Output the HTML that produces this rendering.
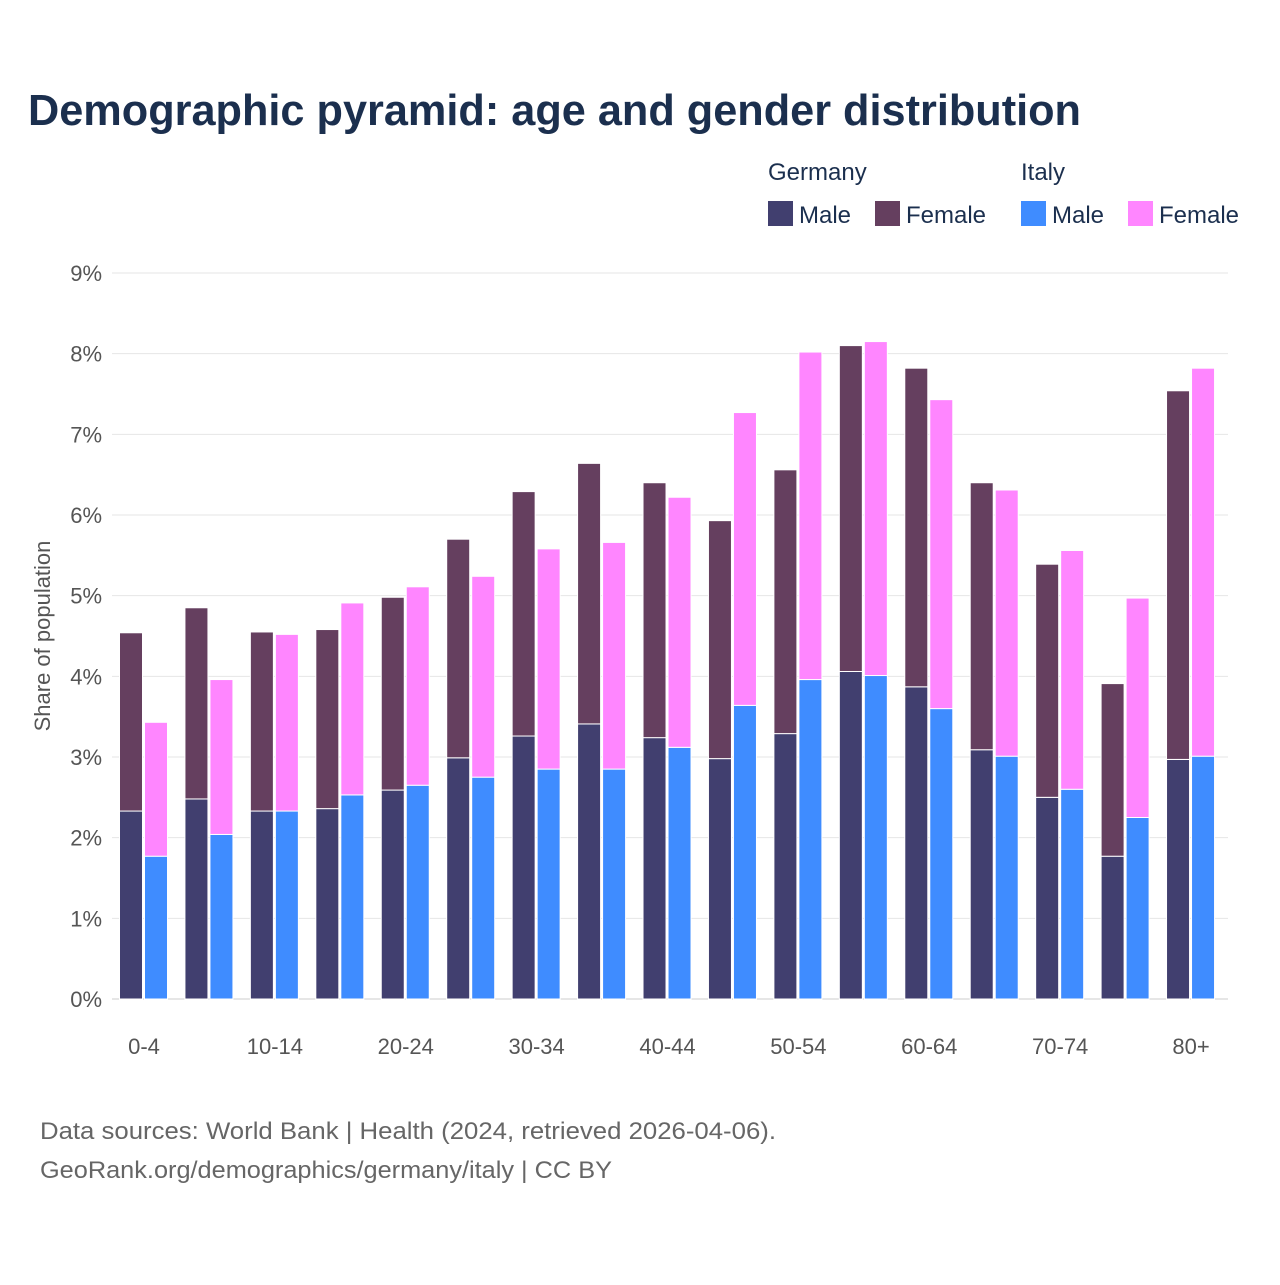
<!DOCTYPE html>
<html><head><meta charset="utf-8"><style>
body{margin:0;background:#fff;font-family:"Liberation Sans",sans-serif;}
svg text{font-family:"Liberation Sans",sans-serif;}
</style></head><body>
<svg id="chart" width="1280" height="1280" xmlns="http://www.w3.org/2000/svg">
<rect width="1280" height="1280" fill="#fff"/>
<text x="28" y="125" font-size="44" font-weight="bold" fill="#1b2f4e" textLength="1053" lengthAdjust="spacingAndGlyphs">Demographic pyramid: age and gender distribution</text>
<g font-size="24" fill="#1b2f4e">
<text x="768" y="180">Germany</text>
<text x="1021" y="180">Italy</text>
<g><rect x="768" y="201" width="25" height="25" fill="#413f6f"/><text x="799" y="223">Male</text></g>
<g><rect x="875" y="201" width="25" height="25" fill="#653f5f"/><text x="906" y="223">Female</text></g>
<g><rect x="1021" y="201" width="25" height="25" fill="#3f8cff"/><text x="1052" y="223">Male</text></g>
<g><rect x="1128" y="201" width="25" height="25" fill="#ff86ff"/><text x="1159" y="223">Female</text></g>
</g>
<g id="grid"></g><g id="bars"></g><g id="axes"></g>
<text transform="translate(50,636) rotate(-90)" text-anchor="middle" font-size="22" fill="#555">Share of population</text>
<text x="40" y="1139" font-size="24" fill="#666" textLength="736" lengthAdjust="spacingAndGlyphs">Data sources: World Bank | Health (2024, retrieved 2026-04-06).</text>
<text x="40" y="1178" font-size="24" fill="#666" textLength="572" lengthAdjust="spacingAndGlyphs">GeoRank.org/demographics/germany/italy | CC BY</text>
</svg>
<script>
const categories=["0-4","5-9","10-14","15-19","20-24","25-29","30-34","35-39","40-44","45-49","50-54","55-59","60-64","65-69","70-74","75-79","80+"];
const germanyMale=[2.33,2.48,2.33,2.36,2.59,2.99,3.26,3.41,3.24,2.98,3.29,4.06,3.87,3.09,2.50,1.77,2.97];
const germanyFemale=[2.21,2.37,2.22,2.22,2.39,2.71,3.03,3.23,3.16,2.95,3.27,4.04,3.95,3.31,2.89,2.14,4.57];
const italyMale=[1.77,2.04,2.33,2.53,2.65,2.75,2.85,2.85,3.12,3.64,3.96,4.01,3.60,3.01,2.60,2.25,3.01];
const italyFemale=[1.66,1.92,2.19,2.38,2.46,2.49,2.73,2.81,3.10,3.63,4.06,4.14,3.83,3.30,2.96,2.72,4.81];
const yTicks=[0,1,2,3,4,5,6,7,8,9];
const NS="http://www.w3.org/2000/svg";
const y0=999,pxPer=(999-273)/9,x0=144,pitch=65.44;
const y=v=>y0-v*pxPer, xc=i=>x0+i*pitch;
function mk(t,a,p){const e=document.createElementNS(NS,t);for(const k in a)e.setAttribute(k,a[k]);p.appendChild(e);return e;}
const grid=document.getElementById('grid'),bars=document.getElementById('bars'),axes=document.getElementById('axes');
yTicks.forEach(t=>{
  const l=mk('line',{x1:112,x2:1228,y1:y(t),y2:y(t),stroke:t===0?'#ccc':'#e6e6e6','stroke-width':1},grid);
  
  
  const tx=mk('text',{x:102,y:y(t)+8,'text-anchor':'end','font-size':22,fill:'#555'},axes);
  tx.textContent=t+'%';
  
  
});
function bar(x,v0,v1,c,name){
  const r=mk('rect',{x:x,y:y(v1),width:23,height:y(v0)-y(v1),fill:c,stroke:'#fff','stroke-width':1},bars);
  
  
}
categories.forEach((c,i)=>{
  const gx=xc(i)-24.5, ix=xc(i)+0.5;
  bar(gx,0,germanyMale[i],'#413f6f','bar-germany-male-'+c);
  bar(gx,germanyMale[i],germanyMale[i]+germanyFemale[i],'#653f5f','bar-germany-female-'+c);
  bar(ix,0,italyMale[i],'#3f8cff','bar-italy-male-'+c);
  bar(ix,italyMale[i],italyMale[i]+italyFemale[i],'#ff86ff','bar-italy-female-'+c);
  if(i%2===0){
    const t=mk('text',{x:xc(i),y:1054,'text-anchor':'middle','font-size':22,fill:'#555'},axes);
    t.textContent=c;
    
    
  }
});
</script>
</body></html>
